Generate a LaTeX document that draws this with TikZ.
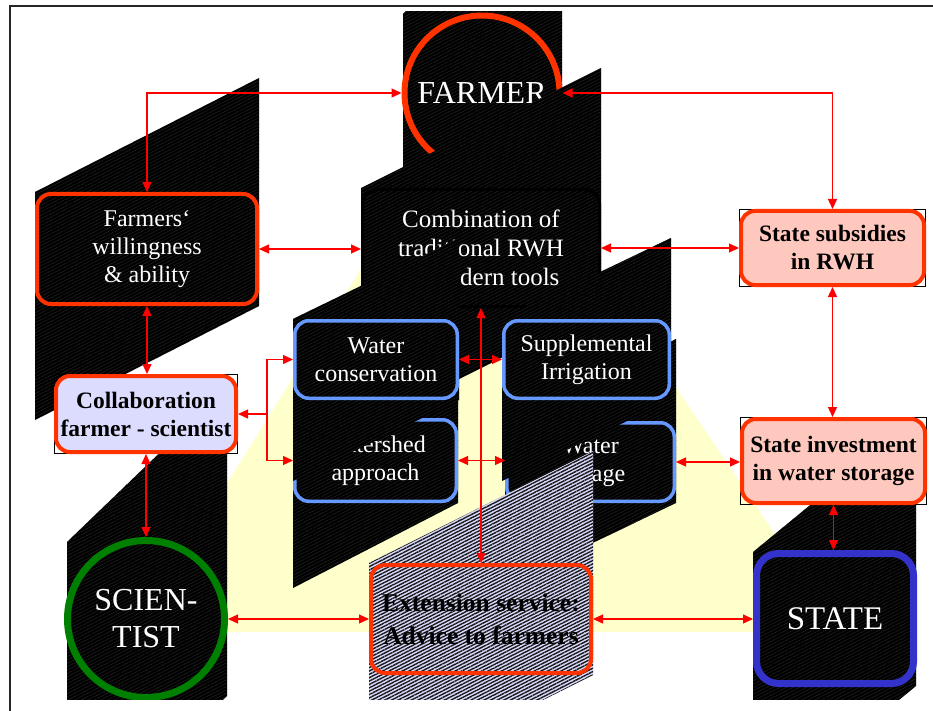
\documentclass[tikz,border=0pt]{standalone}
\usepackage{fontspec}
\setmainfont{Liberation Serif}
\usetikzlibrary{positioning,arrows.meta,patterns.meta}
\definecolor{laranja}{HTML}{FF3300}
\definecolor{azulclaro}{HTML}{6699FF}
\definecolor{azulescuro}{HTML}{3333CC}
\definecolor{verde}{HTML}{008000}
\definecolor{salmao}{HTML}{FFC8BE}
\definecolor{lilas}{HTML}{DCDCFF}
\definecolor{amarelo}{HTML}{FFFFCC}
\definecolor{vermelho}{HTML}{FF0000}

\begin{document}
\begin{tikzpicture}
    [
        x=1pt, y=-1pt,
        sombra/.style={fill=black, postaction={pattern={Lines[angle=27,distance=3pt,line width=.5pt]}, pattern color=black!86!white}},
        listrada/.style={fill=lilas, postaction={pattern={Lines[angle=27,distance=3pt,line width=1.4pt]}, pattern color=black!90}},
        caixa/.style={rectangle, rounded corners=14pt, inner sep=0pt, align=center, font=\fontsize{24}{28}\selectfont},
        escura/.style={caixa, draw=laranja, line width=4pt, text=white},
        azul/.style={caixa, draw=azulclaro, line width=3.5pt, text=white},
        clara/.style={caixa, draw=laranja, line width=4pt, font=\fontsize{23.5}{28}\selectfont\bfseries},
        grande/.style={inner sep=0pt, align=center, text=white, font=\fontsize{32}{37}\selectfont},
        seta/.style={draw=vermelho, line width=1.3pt, >={Triangle[length=10pt,width=9pt]}, <->},
    ]
    \useasboundingbox (0,0) rectangle (933,711);
    % moldura
    \draw[line width=2pt, black!85] (10,711) -- (10,6) -- (933,6);

    \begin{scope}
        \clip (0,12) rectangle (933,699);
        % triangulo de fundo
        \fill[amarelo] (474,88) -- (841,632) -- (134,632) -- cycle;

        % agricultor
        \fill[sombra] (403,14) -- (562,-148) -- (562,176) -- (403,338) -- cycle;
        \node[grande, circle, draw=laranja, line width=6pt, minimum size=155pt] (agricultor) at (482,93) {FARMER};
        % vontade dos agricultores
        \fill[sombra] (35,192) -- (259,78) -- (259,306) -- (35,420) -- cycle;
        \node[escura, minimum width=220pt, minimum height=110pt] (vontade) at (147,249) {Farmers‘\\willingness\\\& ability};
        % combinacao
        \fill[sombra] (361,188) -- (601,68) -- (601,308) -- (361,428) -- cycle;
        \node[caixa, draw=black, line width=3pt, text=white, font=\fontsize{25}{29}\selectfont, minimum width=237pt, minimum height=117pt] (combinacao) at (481,248) {Combination of\\traditional RWH\\\& modern tools};

        % as quatro medidas
        \fill[sombra] (293,418) -- (458,333) -- (458,503) -- (293,588) -- cycle;
        \node[azul, minimum width=161.5pt, minimum height=81.5pt] (microbacia) at (375.5,460.5) {Watershed\\approach};
        \fill[sombra] (505,421) -- (676,339) -- (676,503) -- (505,585) -- cycle;
        \node[azul, minimum width=167.5pt, minimum height=78.5pt] (armazenamento) at (590.5,462) {Water\\storage};
        \fill[sombra] (293,319) -- (459,238) -- (459,400) -- (293,481) -- cycle;
        \node[azul, minimum width=162.5pt, minimum height=77.5pt] (conservacao) at (376,359.5) {Water\\conservation};
        \fill[sombra] (502,319) -- (671,238) -- (671,400) -- (502,481) -- cycle;
        \node[azul, minimum width=165.5pt, minimum height=77.5pt] (suplementar) at (586.5,359.5) {Supplemental\\Irrigation};

        % extensao
        \fill[listrada] (369,563) -- (593,451) -- (593,675) -- (369,787) -- cycle;
        \node[clara, font=\fontsize{25.5}{33}\selectfont\bfseries, minimum width=220pt, minimum height=108pt] (extensao) at (481,619) {Extension service:\\Advice to farmers};

        % cientista
        \fill[sombra] (67,542) -- (227,388) -- (227,696) -- (67,850) -- cycle;
        \node[grande, circle, draw=verde, line width=7pt, minimum size=157pt] (cientista) at (146,619) {SCIEN-\\TIST};
        \draw[line width=.8pt] (54.5,374.5) rectangle (237.5,453.5);
        \node[clara, fill=lilas, minimum width=180pt, minimum height=76pt] (colaboracao) at (146,414) {Collaboration\\farmer - scientist};

        % estado
        \fill[sombra] (753,552) -- (916,418) -- (916,686) -- (753,820) -- cycle;
        \node[grande, rectangle, rounded corners=22pt, draw=azulescuro, line width=7pt, font=\fontsize{33}{37}\selectfont, minimum width=157pt, minimum height=130pt] (estado) at (835,618.5) {STATE};
        \draw[line width=.8pt] (739.5,209.5) rectangle (925.5,286.5);
        \node[clara, fill=salmao, minimum width=183pt, minimum height=74pt] (subsidios) at (832.5,248) {State subsidies\\in RWH};
        \draw[line width=.8pt] (740.5,417.5) rectangle (926.5,504.5);
        \node[clara, fill=salmao, minimum width=183pt, minimum height=84pt] (investimento) at (833.5,461) {State investment\\in water storage};
    \end{scope}

    % setas
    \draw[seta] (vontade.north) |- (agricultor.west);
    \draw[seta] (agricultor.east) -| (subsidios.north);
    \draw[seta] (vontade.east) -- (vontade.east -| combinacao.west);
    \draw[seta] (combinacao.east) -- (combinacao.east -| subsidios.west);
    \draw[seta] (vontade.south) -- (vontade.south |- colaboracao.north);
    \coordinate (ramo) at (267,414);
    \draw[seta, ->] (ramo) -- (colaboracao.east);
    \draw[seta, ->] (ramo) |- (conservacao.west);
    \draw[seta, ->] (ramo) |- (microbacia.west);
    \draw[seta] (colaboracao.south) -- (colaboracao.south |- cientista.north);
    \draw[seta] (conservacao.east) -- (suplementar.west);
    \draw[seta] (microbacia.east) -- (microbacia.east -| armazenamento.west);
    \draw[seta] (extensao.north) -- (extensao.north |- combinacao.south);
    \draw[seta] (armazenamento.east) -- (armazenamento.east -| investimento.west);
    \draw[seta] (subsidios.south) -- (subsidios.south |- investimento.north);
    \draw[seta] (investimento.south) -- (investimento.south |- estado.north);
    \draw[seta] (cientista.east) -- (cientista.east -| extensao.west);
    \draw[seta] (extensao.east) -- (extensao.east -| estado.west);
\end{tikzpicture}
\end{document}
